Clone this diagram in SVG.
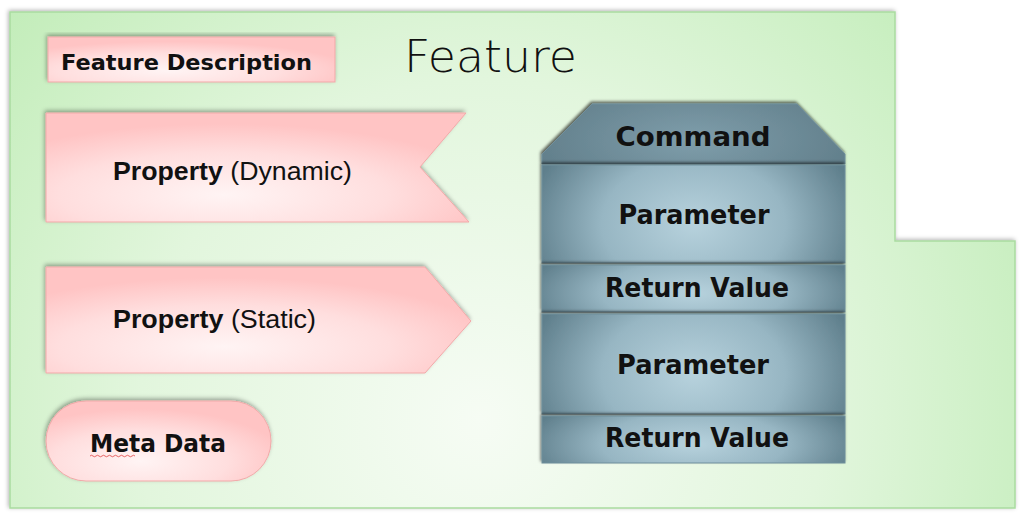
<svg xmlns="http://www.w3.org/2000/svg" width="1024" height="518" viewBox="0 0 1024 518">
<defs>
<radialGradient id="gGreen" cx="480" cy="420" r="620" gradientUnits="userSpaceOnUse">
<stop offset="0" stop-color="#f6fcf4"/>
<stop offset="0.55" stop-color="#e2f6dd"/>
<stop offset="1" stop-color="#c3edba"/>
</radialGradient>
<radialGradient id="gPink" cx="0.42" cy="0.75" r="0.65">
<stop offset="0" stop-color="#fff4f4"/>
<stop offset="0.6" stop-color="#ffdede"/>
<stop offset="1" stop-color="#ffc4c4"/>
</radialGradient>
<radialGradient id="gBlue" cx="0.5" cy="0.6" r="0.55" gradientTransform="translate(0.5 0.6) scale(1 2.2) translate(-0.5 -0.6)">
<stop offset="0" stop-color="#b7d2dd"/>
<stop offset="0.55" stop-color="#97b6c3"/>
<stop offset="1" stop-color="#5f7f8c"/>
</radialGradient>
<radialGradient id="gCmd" cx="0.5" cy="0.6" r="0.6" gradientTransform="translate(0.5 0.6) scale(1 2) translate(-0.5 -0.6)">
<stop offset="0" stop-color="#7f9eab"/>
<stop offset="1" stop-color="#5e7b87"/>
</radialGradient>
<filter id="sh" x="-10%" y="-10%" width="120%" height="130%">
<feDropShadow dx="-1" dy="-2" stdDeviation="2" flood-color="#000" flood-opacity="0.35"/>
</filter>
<filter id="shB" x="-10%" y="-20%" width="120%" height="150%">
<feDropShadow dx="-1" dy="-2" stdDeviation="1.5" flood-color="#000" flood-opacity="0.6"/>
</filter>
<filter id="shG" x="-5%" y="-5%" width="110%" height="110%">
<feDropShadow dx="-1" dy="-1" stdDeviation="2" flood-color="#000" flood-opacity="0.3"/>
</filter>
</defs>
<style>
.pink{fill:url(#gPink);stroke:#f2a9a9;stroke-width:1;filter:url(#sh)}
.blue{fill:url(#gBlue);stroke:#6f8f9c;stroke-width:1;filter:url(#shB)}
.gothic{font-family:"DejaVu Sans","Liberation Sans",sans-serif;font-weight:bold;fill:#111}
.arial{font-family:"Liberation Sans",Arial,sans-serif;font-size:26.5px;fill:#111}
</style>
<rect width="1024" height="518" fill="#ffffff"/>
<g id="feature">
<path d="M10 12 H895 V241 H1015 V508 H10 Z" fill="url(#gGreen)" stroke="#a9dca0" stroke-width="1.5" filter="url(#shG)"/>
<text x="404" y="72" font-family="DejaVu Sans,Liberation Sans,sans-serif" font-weight="200" font-size="45" fill="#111" textLength="173" lengthAdjust="spacingAndGlyphs">Feature</text>
</g>
<g id="feature-description">
<rect x="48" y="37" width="287" height="45" class="pink"/>
<text x="61" y="70" class="gothic" font-size="22" textLength="251" lengthAdjust="spacingAndGlyphs">Feature Description</text>
</g>
<g id="property-dynamic">
<path d="M46 113 H466 L420 167 L469 222 H46 Z" class="pink"/>
<text x="113" y="180" class="arial" textLength="239" lengthAdjust="spacingAndGlyphs"><tspan font-weight="bold">Property</tspan> (Dynamic)</text>
</g>
<g id="property-static">
<path d="M46 267 H425 L471 321 L425 373 H46 Z" class="pink"/>
<text x="113" y="328" class="arial" textLength="203" lengthAdjust="spacingAndGlyphs"><tspan font-weight="bold">Property</tspan> (Static)</text>
</g>
<g id="meta-data">
<rect x="46" y="401" width="225" height="80" rx="40" ry="40" class="pink"/>
<text x="90" y="452" class="gothic" font-size="25" textLength="136" lengthAdjust="spacingAndGlyphs">Meta Data</text>
<path d="M90 456 q1.5 -1.5 3 0 t3 0 t3 0 t3 0 t3 0 t3 0 t3 0 t3 0 t3 0 t3 0 t3 0 t3 0 t3 0 t3 0 t3 0" fill="none" stroke="#e04040" stroke-width="0.8"/>
</g>
<g id="command">
<path d="M542 154 L592 104 H797 L845 154 V164 H542 Z" fill="url(#gCmd)" stroke="#6f8f9c" stroke-width="1" filter="url(#shB)"/>
<text x="693" y="146" text-anchor="middle" class="gothic" font-size="27" textLength="155" lengthAdjust="spacingAndGlyphs">Command</text>
</g>
<g id="parameter-1">
<rect x="542" y="165" width="303" height="98" class="blue"/>
<text x="694" y="224" text-anchor="middle" class="gothic" font-size="27" textLength="151" lengthAdjust="spacingAndGlyphs">Parameter</text>
</g>
<g id="return-value-1">
<rect x="542" y="265" width="303" height="47" class="blue"/>
<text x="697" y="297" text-anchor="middle" class="gothic" font-size="27" textLength="184" lengthAdjust="spacingAndGlyphs">Return Value</text>
</g>
<g id="parameter-2">
<rect x="542" y="314" width="303" height="100" class="blue"/>
<text x="693" y="374" text-anchor="middle" class="gothic" font-size="27" textLength="152" lengthAdjust="spacingAndGlyphs">Parameter</text>
</g>
<g id="return-value-2">
<rect x="542" y="416" width="303" height="47" class="blue"/>
<text x="697" y="447" text-anchor="middle" class="gothic" font-size="27" textLength="184" lengthAdjust="spacingAndGlyphs">Return Value</text>
</g>
<g id="connectors"/>
</svg>
